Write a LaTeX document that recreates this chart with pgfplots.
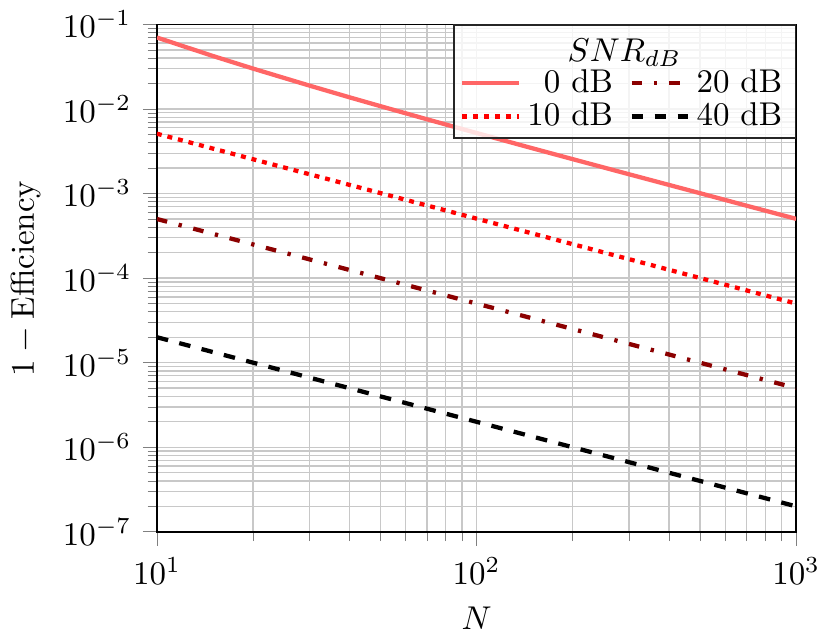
\documentclass[border=0pt]{standalone}
\usepackage{pgfplots}
\pgfplotsset{compat=1.18}
\definecolor{salmonred}{RGB}{255,102,102}
\definecolor{darkred}{RGB}{139,0,0}
\definecolor{gridgray}{RGB}{200,200,200}
\begin{document}
\begin{tikzpicture}
\begin{axis}[
    scale only axis,
    width=194pt, height=154pt,
    xmode=log, ymode=log,
    xmin=10, xmax=1000,
    ymin=1e-7, ymax=1e-1,
    xtickten={1,2,3},
    ytickten={-7,-6,-5,-4,-3,-2,-1},
    tick align=outside,
    tick pos=left,
    grid=both,
    major grid style={line width=0.4pt, draw=gridgray},
    minor grid style={line width=0.4pt, draw=gridgray},
    axis line style={line width=0.5pt},
    xlabel={$N$},
    ylabel={$1-\mathrm{Efficiency}$},
    legend columns=2,
    legend cell align=right,
    legend style={
        at={(rel axis cs:1,1)}, anchor=north east,
        fill=white, fill opacity=0.8, draw opacity=1, text opacity=1,
        draw=black!85, line width=0.5pt,
        inner xsep=2pt, inner ysep=1.5pt,
        nodes={inner ysep=0.8pt, inner xsep=2pt},
        label={[anchor=north, yshift=-1pt, text opacity=1]north:{$SNR_{dB}$}},
        /tikz/every even column/.append style={column sep=3pt},
    },
    legend image code/.code={\draw[#1] (0cm,0cm) -- (0.6cm,0cm);},
]

\addlegendimage{empty legend}
\addlegendentry{\rule{0pt}{8pt}}
\addlegendimage{empty legend}
\addlegendentry{\rule{0pt}{8pt}}

% 0 dB
\addplot[salmonred, line width=1.3pt] coordinates {
    (10,0.070)(15,0.0422)(20,0.0300)(30,0.0189)(40,0.01375)(50,0.0108)
    (70,0.00755)(100,0.0052)(150,0.00342)(200,0.00255)(300,0.00169)
    (500,0.00101)(700,0.000718)(1000,0.000502)
};
\addlegendentry{0 dB}

% 20 dB
\addplot[darkred, line width=1.3pt, dash pattern=on 3.2pt off 3.6pt on 1pt off 3.6pt] coordinates {
    (10,5.0e-4)(100,5.0e-5)(1000,5.0e-6)
};
\addlegendentry{20 dB}

% 10 dB
\addplot[red, line width=1.3pt, dash pattern=on 1.5pt off 1.8pt] coordinates {
    (10,5.1e-3)(100,5.05e-4)(1000,5.0e-5)
};
\addlegendentry{10 dB}

% 40 dB
\addplot[black, line width=1.3pt, dash pattern=on 3.5pt off 3.5pt] coordinates {
    (10,2.0e-5)(100,2.0e-6)(1000,2.0e-7)
};
\addlegendentry{40 dB}

\end{axis}
\end{tikzpicture}
\end{document}
